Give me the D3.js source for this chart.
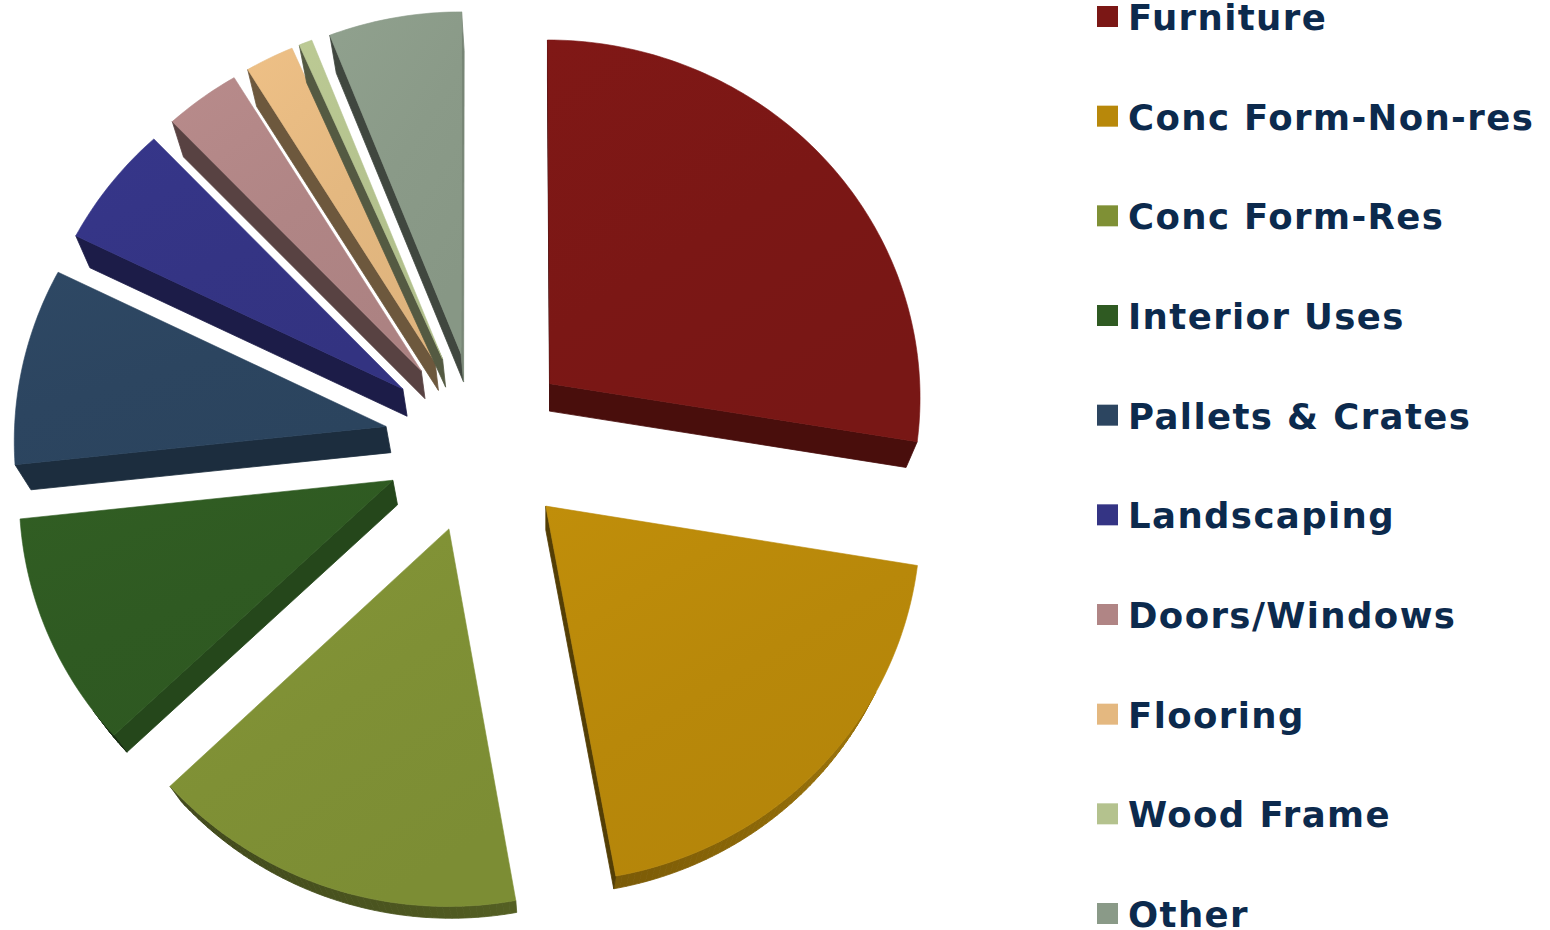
<!DOCTYPE html>
<html>
<head>
<meta charset="utf-8">
<script src="https://cdn.jsdelivr.net/npm/d3@7"></script>
<style>
  html, body { margin: 0; padding: 0; background: #ffffff; }
  svg { display: block; }
</style>
</head>
<body>
<svg id="chart" width="1550" height="930"></svg>
<script>
// Wood use by end market, share of total (%)
const categories = [
  "Furniture", "Conc Form-Non-res", "Conc Form-Res", "Interior Uses",
  "Pallets & Crates", "Landscaping", "Doors/Windows", "Flooring",
  "Wood Frame", "Other"
];
const shares = [27.6, 19.6, 15.7, 10.4, 8.9, 5.6, 3.4, 2.2, 0.6, 6.0];
const colors = [
  "#7b1715", "#b8880a", "#7f9035", "#2f5a22", "#2c4560",
  "#343484", "#b08585", "#e4b880", "#b4c28e", "#8a9a88"
];

const svg = d3.select("#chart");

// Pie geometry (plane of the disk) and a mild perspective tilt
const cx = 478.5, cy = 442;
const radius = 372;
const explode = 94;
const squash = 0.965;
const persp = 0.00009;
// Slab thickness: the underside shrinks toward a vanishing point below
const vp = [546, 1300];
const depthK = 0.030;

function project([u, v]) {
  const w = 1 - persp * v;
  return [cx + u / w, cy + squash * v / w];
}
function underside([x, y]) {
  return [x + depthK * (vp[0] - x), y + depthK * (vp[1] - y)];
}

const arcs = d3.pie().sort(null).value(d => d).startAngle(0).endAngle(2 * Math.PI)(shares);

const defs = svg.append("defs");
const line = d3.line();
const gPie = svg.append("g");

arcs.forEach((a, i) => {
  const mid = (a.startAngle + a.endAngle) / 2;
  const ex = [explode * Math.sin(mid), -explode * Math.cos(mid)];
  const steps = Math.max(2, Math.ceil((a.endAngle - a.startAngle) / (Math.PI / 180)));
  const plane = [ex];
  for (let s = 0; s <= steps; s++) {
    const t = a.startAngle + (a.endAngle - a.startAngle) * s / steps;
    plane.push([ex[0] + radius * Math.sin(t), ex[1] - radius * Math.cos(t)]);
  }
  const top = plane.map(project);
  const bot = top.map(underside);
  const base = d3.rgb(colors[i]);

  const g = gPie.append("g").attr("class", "slice");

  // side walls: only edges facing the underside offset
  const n = top.length;
  for (let j = 0; j < n; j++) {
    const p0 = top[j], p1 = top[(j + 1) % n];
    const dx = p1[0] - p0[0], dy = p1[1] - p0[1];
    const len = Math.hypot(dx, dy) || 1;
    const nx = dy / len, ny = -dx / len;
    const m = [(p0[0] + p1[0]) / 2, (p0[1] + p1[1]) / 2];
    const disp = [depthK * (vp[0] - m[0]), depthK * (vp[1] - m[1])];
    if (nx * disp[0] + ny * disp[1] <= 0) continue;
    const f = 0.62 + 0.25 * Math.max(nx, 0) - 0.17 * Math.max(-nx, 0);
    const c = d3.rgb(base.r * f, base.g * f, base.b * f).formatHex();
    g.append("path")
      .attr("d", line([p0, p1, bot[(j + 1) % n], bot[j]]) + "Z")
      .attr("fill", c)
      .attr("stroke", c)
      .attr("stroke-width", 0.8)
      .attr("stroke-linejoin", "round");
  }

  // top face with a soft sheen
  const gid = "sheen" + i;
  const grad = defs.append("linearGradient")
    .attr("id", gid).attr("x1", "0").attr("y1", "0").attr("x2", "0.6").attr("y2", "1");
  grad.append("stop").attr("offset", "0%").attr("stop-color", base.brighter(0.12).formatHex());
  grad.append("stop").attr("offset", "55%").attr("stop-color", base.formatHex());
  grad.append("stop").attr("offset", "100%").attr("stop-color", base.darker(0.06).formatHex());

  g.append("path")
    .attr("d", line(top) + "Z")
    .attr("fill", `url(#${gid})`)
    .attr("stroke", base.formatHex())
    .attr("stroke-width", 0.6)
    .attr("stroke-linejoin", "round");
});

// Legend
const legendX = 1097;
const legendY = d3.scaleLinear().domain([0, categories.length - 1]).range([30, 927]);
const legend = svg.append("g").attr("class", "legend");
categories.forEach((name, i) => {
  const y = legendY(i);
  legend.append("rect")
    .attr("x", legendX).attr("y", y - 24)
    .attr("width", 21).attr("height", 21)
    .attr("fill", colors[i]);
  legend.append("text")
    .attr("x", legendX + 31).attr("y", y)
    .attr("font-family", "'DejaVu Sans', Verdana, sans-serif")
    .attr("font-weight", "bold")
    .attr("font-size", 35.5)
    .attr("letter-spacing", 1.4)
    .attr("fill", "#0c2a4d")
    .text(name);
});
</script>
</body>
</html>
